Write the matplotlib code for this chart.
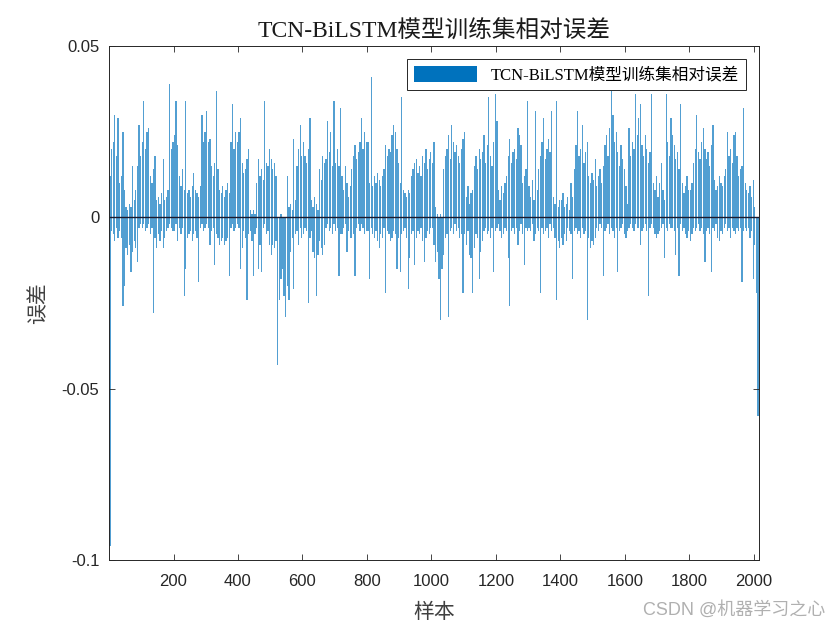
import numpy as np
import matplotlib.pyplot as plt

# relative error of the training set in units of 1e-3
# each entry is the peak of a 5-sample window (samples 5i+1 .. 5i+5)
pos = [
    12, 20, 22, 30, 18, 29, 10, 12, 25, 8, 3, 2, 4, 3, 15, 5, 8, 15, 27, 18,
    22, 34, 20, 25, 26, 12, 10, 14, 18, 5, 6, 4, 7, 17, 5, 6, 8, 39, 20, 22,
    24, 34, 21, 12, 9, 14, 8, 34, 7, 8, 6, 9, 13, 8, 7, 6, 9, 30, 22, 25,
    31, 22, 23, 15, 12, 16, 37, 14, 8, 7, 9, 6, 8, 10, 7, 22, 33, 20, 25, 22,
    25, 29, 16, 13, 14, 17, 20, 2, 1, 2, 1, 10, 17, 12, 14, 11, 34, 16, 15, 20,
    17, 14, 16, 12, 0, 0, 1, 0, 0, 0, 12, 3, 4, 2, 23, 5, 15, 20, 27, 18,
    22, 18, 16, 20, 29, 5, 3, 6, 4, 2, 14, 11, 18, 16, 17, 28, 19, 25, 15, 34,
    16, 20, 15, 32, 12, 8, 15, 10, 6, 9, 14, 18, 21, 17, 19, 22, 29, 20, 25, 22,
    22, 10, 41, 9, 12, 10, 13, 11, 9, 12, 14, 21, 18, 20, 19, 24, 27, 25, 20, 16,
    10, 35, 8, 7, 6, 8, 7, 12, 14, 16, 17, 13, 15, 12, 18, 16, 20, 14, 17, 19,
    16, 22, 3, 1, 0, 1, 0, 14, 18, 20, 24, 17, 27, 22, 19, 21, 18, 16, 20, 23,
    25, 6, 9, 4, 7, 8, 15, 18, 14, 20, 17, 19, 24, 16, 21, 35, 18, 15, 22, 36,
    28, 8, 5, 9, 7, 10, 12, 18, 23, 16, 19, 20, 17, 26, 24, 21, 10, 12, 14, 34,
    9, 6, 11, 5, 31, 8, 14, 18, 22, 29, 17, 20, 23, 19, 31, 6, 4, 34, 3, 5,
    5, 7, 3, 4, 6, 2, 10, 6, 14, 21, 31, 18, 20, 27, 16, 19, 22, 12, 10, 13,
    11, 17, 9, 12, 14, 10, 15, 21, 24, 18, 26, 37, 30, 22, 25, 19, 15, 21, 17, 14,
    9, 4, 26, 18, 22, 20, 36, 24, 29, 33, 21, 18, 24, 20, 16, 19, 36, 10, 8, 12,
    6, 10, 16, 8, 5, 36, 22, 18, 29, 24, 21, 17, 19, 14, 33, 10, 7, 9, 12, 8,
    8, 10, 16, 20, 30, 19, 17, 22, 26, 20, 17, 19, 15, 21, 27, 11, 8, 9, 12, 10,
    9, 12, 14, 25, 18, 20, 16, 24, 25, 18, 12, 14, 15, 32, 10, 8, 7, 9, 6, 11,
    3, 0, 0,
]
neg = [
    -96, -4, -5, -7, -3, -6, -4, -6, -26, -20, -9, -11, -8, -16, -10, -7, -9, -13, -3, -2,
    -3, -2, -4, -3, -2, -5, -3, -28, -6, -9, -5, -7, -4, -9, -6, -4, -3, -2, -3, -4,
    -4, -2, -7, -3, -5, -3, -23, -15, -6, -5, -4, -7, -5, -4, -6, -19, -3, -2, -4, -3,
    -2, -3, -8, -4, -3, -14, -5, -6, -8, -7, -6, -8, -7, -6, -17, -3, -2, -4, -3, -2,
    -3, -15, -9, -4, -6, -24, -5, -4, -7, -17, -5, -3, -15, -8, -16, -3, -2, -5, -4, -8,
    -11, -8, -9, -7, -43, -24, -18, -15, -23, -29, -20, -24, -10, -6, -21, -5, -4, -8, -3, -6,
    -5, -3, -4, -25, -6, -4, -10, -12, -23, -11, -7, -9, -11, -8, -3, -2, -4, -3, -5, -2,
    -4, -3, -17, -5, -5, -3, -2, -10, -4, -6, -6, -5, -17, -3, -2, -4, -2, -3, -5, -4,
    -4, -18, -3, -5, -6, -4, -7, -9, -5, -6, -3, -22, -4, -5, -7, -6, -4, -5, -15, -6,
    -16, -5, -4, -3, -6, -21, -12, -5, -4, -14, -6, -4, -5, -3, -7, -13, -6, -4, -5, -3,
    -3, -8, -13, -10, -18, -30, -15, -11, -6, -5, -29, -4, -3, -5, -2, -4, -3, -6, -5, -22,
    -5, -8, -4, -11, -12, -22, -9, -5, -6, -18, -10, -7, -4, -3, -5, -4, -6, -3, -16, -4,
    -3, -2, -4, -6, -5, -3, -4, -12, -26, -4, -3, -5, -3, -8, -4, -2, -5, -14, -3, -4,
    -3, -4, -2, -7, -5, -3, -4, -22, -3, -5, -4, -3, -6, -2, -4, -3, -6, -24, -7, -9,
    -6, -8, -5, -7, -3, -4, -5, -18, -4, -3, -5, -4, -6, -3, -5, -4, -30, -6, -9, -7,
    -8, -6, -3, -4, -2, -3, -17, -4, -3, -2, -5, -3, -4, -6, -3, -16, -4, -3, -2, -5,
    -6, -4, -3, -2, -3, -4, -2, -3, -3, -8, -4, -3, -2, -4, -23, -3, -2, -3, -5, -6,
    -5, -4, -3, -2, -12, -3, -4, -2, -3, -3, -4, -11, -3, -17, -2, -4, -3, -5, -6, -4,
    -7, -5, -3, -4, -3, -2, -4, -3, -5, -13, -4, -3, -5, -16, -3, -4, -2, -6, -7, -4,
    -5, -3, -2, -4, -3, -6, -3, -4, -5, -3, -4, -3, -19, -4, -3, -4, -3, -6, -4, -18,
    -8, -22, -58,
]
step = 5
xticks = [200, 400, 600, 800, 1000, 1200, 1400, 1600, 1800, 2000]
yticks = [0.05, 0, -0.05, -0.1]
ytick_labels = ['0.05', '0', '-0.05', '-0.1']
title = 'TCN-BiLSTM模型训练集相对误差'

serif = ['Liberation Serif', 'Noto Sans CJK SC']
plt.rcParams['font.family'] = ['Liberation Sans', 'Noto Sans CJK SC']

pos = np.array(pos) * 1e-3
neg = np.array(neg) * 1e-3
x = np.arange(len(pos)) * step + (step + 1) / 2

fig = plt.figure(figsize=(8.4, 6.3), dpi=100)
ax = fig.add_axes([0.1298, 0.1111, 0.7738, 0.8159])

blue = '#0072BD'
ax.bar(x, pos, width=4, color=blue, alpha=0.68, linewidth=0, label=title)
ax.bar(x, neg, width=4, color=blue, alpha=0.68, linewidth=0)
ax.axhline(0, color='#1a1a2e', lw=1.0)

ax.set_xlim(0, 2016)
ax.set_ylim(-0.1, 0.05)
ax.set_xticks(xticks)
ax.set_yticks(yticks)
ax.set_yticklabels(ytick_labels)
ax.tick_params(direction='in', length=4, width=0.6, top=True, right=True,
               labelsize=12, colors='#262626')
ax.tick_params(axis='x', pad=10)
ax.tick_params(axis='y', pad=7)
for s in ax.spines.values():
    s.set_linewidth(0.7)
    s.set_color('#262626')

ax.set_title(title, family=serif, fontsize=17, color='#1a1a1a', pad=6)
ax.set_xlabel('样本', family=serif, fontsize=15, color='#404040', labelpad=11)
ax.set_ylabel('误差', family=serif, fontsize=15, color='#404040', labelpad=9)

leg = ax.legend(loc='upper right', prop={'family': serif, 'size': 12},
                handlelength=3.8, handleheight=1.1, fancybox=False,
                framealpha=1, edgecolor='#262626', borderaxespad=0.8)
leg.get_frame().set_linewidth(0.7)
for h in leg.legend_handles:
    h.set_alpha(1)

fig.text(0.982, 0.017, 'CSDN @机器学习之心', ha='right', va='bottom',
         fontsize=13, color='#b0b0b0')

fig.savefig('out.png', dpi=100)
